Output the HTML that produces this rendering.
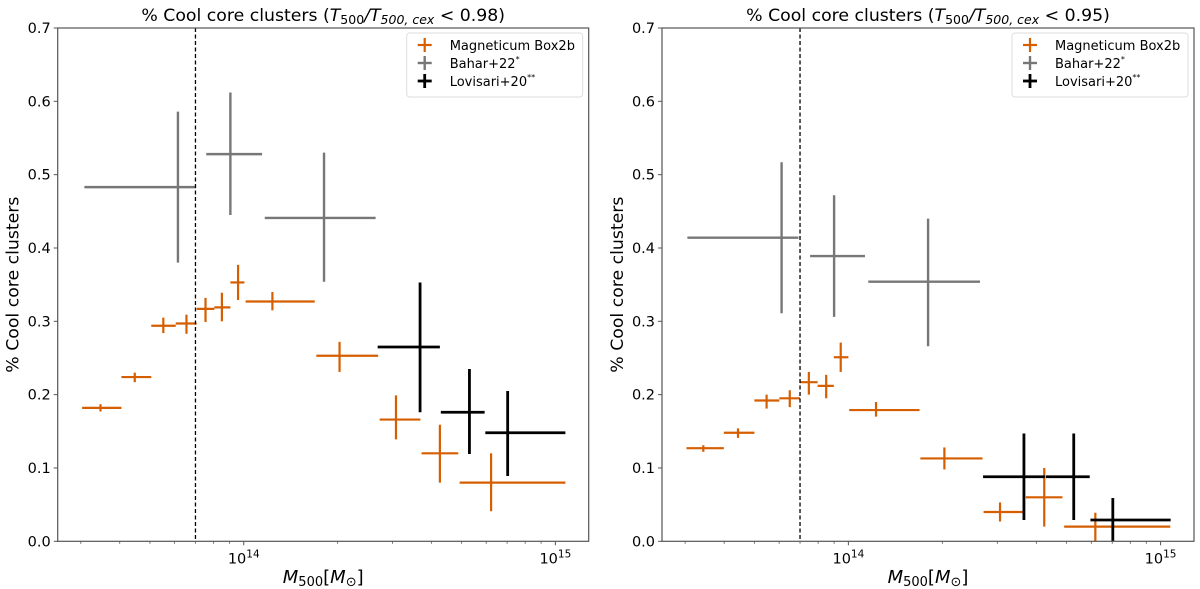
<!DOCTYPE html>
<html><head><meta charset="utf-8">
<style>
html,body{margin:0;padding:0;background:#fff;}
svg{display:block;font-family:"DejaVu Sans","Liberation Sans",sans-serif;}
</style></head>
<body>
<svg id="fig" width="1200" height="589" viewBox="0 0 1200 589" xmlns="http://www.w3.org/2000/svg"></svg>
<script>
// ---- data (mass in solar masses, fraction) ----
const yTicks = [0.0, 0.1, 0.2, 0.3, 0.4, 0.5, 0.6, 0.7];
const xMajorTicks = [1e14, 1e15];
const xMinorTicks = [3e13, 4e13, 5e13, 6e13, 7e13, 8e13, 9e13, 2e14, 3e14, 4e14, 5e14, 6e14, 7e14, 8e14, 9e14];
const titles = ["0.98", "0.95"];
const cutMass = 7.0e13;

// Magneticum Box2b, left panel
const magL_m   = [3.47e13,4.47e13,5.52e13,6.55e13,7.54e13,8.51e13,9.59e13,1.236e14,2.03e14,3.08e14,4.26e14,6.22e14];
const magL_mlo = [3.03e13,4.05e13,5.05e13,6.05e13,7.06e13,8.05e13,9.06e13,1.014e14,1.71e14,2.73e14,3.72e14,4.93e14];
const magL_mhi = [4.05e13,5.05e13,6.05e13,7.06e13,8.05e13,9.06e13,1.005e14,1.69e14,2.70e14,3.69e14,4.88e14,1.077e15];
const magL_f   = [0.182,0.224,0.294,0.297,0.317,0.319,0.353,0.327,0.253,0.166,0.120,0.080];
const magL_flo = [0.177,0.217,0.284,0.283,0.299,0.300,0.329,0.315,0.231,0.139,0.080,0.041];
const magL_fhi = [0.187,0.230,0.305,0.309,0.332,0.339,0.377,0.340,0.272,0.199,0.159,0.120];
// Bahar+22, left
const bahL_m   = [6.15e13,9.06e13,1.81e14];
const bahL_mlo = [3.08e13,7.58e13,1.168e14];
const bahL_mhi = [7.03e13,1.145e14,2.65e14];
const bahL_f   = [0.483,0.528,0.441];
const bahL_flo = [0.380,0.445,0.354];
const bahL_fhi = [0.586,0.612,0.530];
// Lovisari+20, left
const lovL_m   = [3.68e14,5.30e14,7.03e14];
const lovL_mlo = [2.69e14,4.29e14,5.96e14];
const lovL_mhi = [4.26e14,5.93e14,1.077e15];
const lovL_f   = [0.265,0.176,0.148];
const lovL_flo = [0.176,0.119,0.089];
const lovL_fhi = [0.353,0.235,0.205];

// Magneticum Box2b, right panel
const magR_m   = [3.43e13,4.43e13,5.47e13,6.49e13,7.47e13,8.49e13,9.45e13,1.226e14,2.03e14,3.06e14,4.24e14,6.18e14];
const magR_mlo = [3.03e13,3.99e13,5.0e13,6.01e13,7.0e13,7.97e13,8.98e13,1.006e14,1.70e14,2.71e14,3.70e14,4.91e14];
const magR_mhi = [3.99e13,5.0e13,6.01e13,7.0e13,7.97e13,8.98e13,1.0e14,1.69e14,2.69e14,3.63e14,4.85e14,1.074e15];
const magR_f   = [0.127,0.148,0.192,0.195,0.217,0.212,0.251,0.179,0.113,0.040,0.060,0.020];
const magR_flo = [0.122,0.141,0.181,0.183,0.200,0.195,0.231,0.170,0.098,0.027,0.020,0.000];
const magR_fhi = [0.131,0.154,0.200,0.206,0.231,0.227,0.271,0.190,0.128,0.053,0.100,0.039];
// Bahar+22, right
const bahR_m   = [6.11e13,9.0e13,1.80e14];
const bahR_mlo = [3.05e13,7.54e13,1.158e14];
const bahR_mhi = [6.92e13,1.13e14,2.64e14];
const bahR_f   = [0.414,0.389,0.354];
const bahR_flo = [0.311,0.306,0.266];
const bahR_fhi = [0.517,0.472,0.440];
// Lovisari+20, right
const lovR_m   = [3.65e14,5.27e14,7.03e14];
const lovR_mlo = [2.70e14,4.29e14,5.96e14];
const lovR_mhi = [4.26e14,5.93e14,1.077e15];
const lovR_f   = [0.088,0.088,0.029];
const lovR_flo = [0.029,0.029,0.000];
const lovR_fhi = [0.147,0.147,0.059];

const NS = "http://www.w3.org/2000/svg";
const svg = document.getElementById('fig');
function mk(tag, attrs, parent){
  const e = document.createElementNS(NS, tag);
  for (const k in attrs) e.setAttribute(k, attrs[k]);
  (parent||svg).appendChild(e);
  return e;
}
const TOP = 28, BOT = 541.3;
const LOGMIN = 13.403, LOGMAX = 15.107, YMAX = 0.7;

function panel(px0, px1, idx, series){
  const g = mk('g', {});
  
  
  const xs = m => px0 + (Math.log10(m) - LOGMIN) / (LOGMAX - LOGMIN) * (px1 - px0);
  const ys = v => BOT - v / YMAX * (BOT - TOP);

  series.forEach(s => {
    const sg = mk('g', {stroke: s.color, 'stroke-width': s.w, fill: 'none'}, g);
    
    
    for (let i = 0; i < s.m.length; i++){
      const hl = mk('line', {x1: xs(s.mlo[i]), x2: xs(s.mhi[i]), y1: ys(s.f[i]), y2: ys(s.f[i])}, sg);
      
      
      const vl = mk('line', {x1: xs(s.m[i]), x2: xs(s.m[i]), y1: ys(s.flo[i]), y2: ys(s.fhi[i])}, sg);
      
      
    }
  });

  const dl = mk('line', {x1: xs(cutMass), x2: xs(cutMass), y1: TOP, y2: BOT, stroke: '#000', 'stroke-width': 1.3, 'stroke-dasharray': '4,2.5'}, g);
  
  

  const fr = mk('rect', {x: px0, y: TOP, width: px1 - px0, height: BOT - TOP, fill: 'none', stroke: '#555', 'stroke-width': 1.2}, g);
  
  

  yTicks.forEach(t => {
    const y = ys(t);
    mk('line', {x1: px0 - 4, x2: px0, y1: y, y2: y, stroke: '#555', 'stroke-width': 1}, g);
    const tx = mk('text', {x: px0 - 7, y: y + 5, 'text-anchor': 'end', 'font-size': 14.5, fill: '#000'}, g);
    tx.textContent = t.toFixed(1);
    
    
  });
  xMinorTicks.forEach(t => {
    const x = xs(t);
    mk('line', {x1: x, x2: x, y1: BOT, y2: BOT + 2.5, stroke: '#555', 'stroke-width': 0.8}, g);
  });
  xMajorTicks.forEach(t => {
    const x = xs(t);
    mk('line', {x1: x, x2: x, y1: BOT, y2: BOT + 4, stroke: '#555', 'stroke-width': 1}, g);
    const tx = mk('text', {x: x, y: BOT + 22, 'text-anchor': 'middle', 'font-size': 14.5, fill: '#000'}, g);
    
    
    const base = mk('tspan', {}, tx); base.textContent = '10';
    const sup = mk('tspan', {dy: -6, 'font-size': 10.5}, tx); sup.textContent = String(Math.round(Math.log10(t)));
  });

  const cx = (px0 + px1) / 2;
  const xl = mk('text', {x: cx, y: 583, 'text-anchor': 'middle', 'font-size': 18, fill: '#000'}, g);
  
  
  let t1 = mk('tspan', {'font-style': 'italic'}, xl); t1.textContent = 'M';
  t1 = mk('tspan', {'font-size': 13, dy: 3}, xl); t1.textContent = '500';
  t1 = mk('tspan', {dy: -3}, xl); t1.textContent = '[';
  t1 = mk('tspan', {'font-style': 'italic'}, xl); t1.textContent = 'M';
  t1 = mk('tspan', {'font-size': 13, dy: 3}, xl); t1.textContent = '⊙';
  t1 = mk('tspan', {dy: -3}, xl); t1.textContent = ']';

  const yl = mk('text', {x: 0, y: 0, 'text-anchor': 'middle', 'font-size': 17.3, fill: '#000', transform: `translate(${px0 - 39},${(TOP + BOT) / 2}) rotate(-90)`}, g);
  yl.textContent = '% Cool core clusters';
  
  

  const ti = mk('text', {x: cx, y: 21, 'text-anchor': 'middle', 'font-size': 17.3, fill: '#000'}, g);
  
  
  let s = mk('tspan', {}, ti); s.textContent = '% Cool core clusters (';
  s = mk('tspan', {'font-style': 'italic'}, ti); s.textContent = 'T';
  s = mk('tspan', {'font-size': 12.5, dy: 3}, ti); s.textContent = '500';
  s = mk('tspan', {dy: -3, 'font-style': 'italic'}, ti); s.textContent = '/T';
  s = mk('tspan', {'font-size': 12.5, dy: 3, 'font-style': 'italic'}, ti); s.textContent = '500, cex';
  s = mk('tspan', {dy: -3}, ti); s.textContent = ' < ' + titles[idx] + ')';

  const lx = px1 - 182, ly = 33;
  const lg = mk('g', {}, g);
  
  
  mk('rect', {x: lx, y: ly, width: 176, height: 64, rx: 3, fill: '#fff', stroke: '#ddd', 'stroke-width': 1}, lg);
  const labels = [['Magneticum Box2b', ''], ['Bahar+22', '*'], ['Lovisari+20', '**']];
  series.forEach((sr, i) => {
    const yy = ly + 12 + i * 18;
    const mx = lx + 18;
    mk('line', {x1: mx - 7, x2: mx + 7, y1: yy, y2: yy, stroke: sr.color, 'stroke-width': sr.w}, lg);
    mk('line', {x1: mx, x2: mx, y1: yy - 7, y2: yy + 7, stroke: sr.color, 'stroke-width': sr.w}, lg);
    const lt = mk('text', {x: lx + 43, y: yy + 5, 'font-size': 13, fill: '#000'}, lg);
    
    
    const a = mk('tspan', {}, lt); a.textContent = labels[i][0];
    if (labels[i][1]) { const b = mk('tspan', {dy: -6, 'font-size': 8}, lt); b.textContent = labels[i][1]; }
  });
}

const ORANGE = '#d55e00';
panel(57.7, 588.7, 0, [
  {name: 'magneticum', color: ORANGE, w: 2.2, m: magL_m, mlo: magL_mlo, mhi: magL_mhi, f: magL_f, flo: magL_flo, fhi: magL_fhi},
  {name: 'bahar22', color: '#777', w: 2.4, m: bahL_m, mlo: bahL_mlo, mhi: bahL_mhi, f: bahL_f, flo: bahL_flo, fhi: bahL_fhi},
  {name: 'lovisari20', color: '#000', w: 2.8, m: lovL_m, mlo: lovL_mlo, mhi: lovL_mhi, f: lovL_f, flo: lovL_flo, fhi: lovL_fhi}
]);
panel(662, 1194, 1, [
  {name: 'magneticum', color: ORANGE, w: 2.2, m: magR_m, mlo: magR_mlo, mhi: magR_mhi, f: magR_f, flo: magR_flo, fhi: magR_fhi},
  {name: 'bahar22', color: '#777', w: 2.4, m: bahR_m, mlo: bahR_mlo, mhi: bahR_mhi, f: bahR_f, flo: bahR_flo, fhi: bahR_fhi},
  {name: 'lovisari20', color: '#000', w: 2.8, m: lovR_m, mlo: lovR_mlo, mhi: lovR_mhi, f: lovR_f, flo: lovR_flo, fhi: lovR_fhi}
]);
</script>
</body></html>
